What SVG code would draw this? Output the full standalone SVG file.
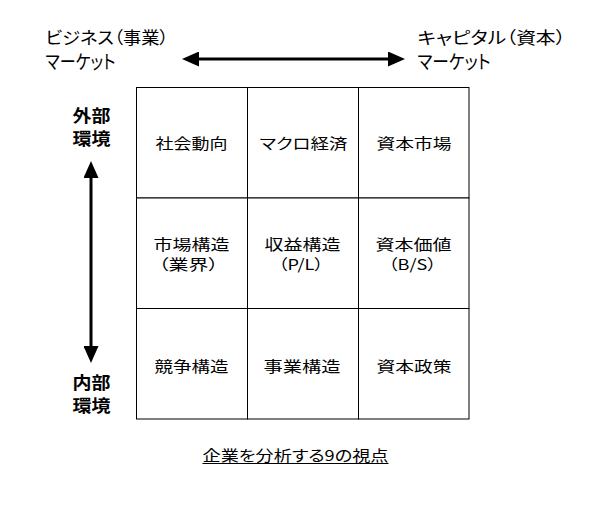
<svg xmlns="http://www.w3.org/2000/svg" width="613" height="505" viewBox="0 0 613 505">
<style>
text{font-family:"Noto Sans CJK JP","Noto Sans",sans-serif;font-size:15px;fill:#000;font-feature-settings:"palt";}
.top{font-size:17px;}
.kana{font-size:19px;}
.side{font-size:17px;font-weight:bold;}
.cell{fill:#fff;stroke:#000;stroke-width:1;}
.arr{stroke:#000;stroke-width:3;fill:none;}
</style>
<defs>
<marker id="ah" viewBox="0 0 17 15" refX="4" refY="7.5" markerWidth="17" markerHeight="15" markerUnits="userSpaceOnUse" orient="auto-start-reverse">
<path d="M0,0 L17,7.5 L0,15 z" fill="#000"/>
</marker>
</defs>
<rect width="613" height="505" fill="#fff"/>
<g id="connectors">
<line class="arr" x1="195" y1="59" x2="392" y2="59" marker-start="url(#ah)" marker-end="url(#ah)"/>
<line class="arr" x1="91" y1="174" x2="91" y2="350" marker-start="url(#ah)" marker-end="url(#ah)"/>
</g>
<g id="label-business">
<text class="top" x="45.5" y="44" textLength="123" lengthAdjust="spacingAndGlyphs">ビジネス（事業）</text>
<text class="kana" x="45.5" y="69" textLength="70" lengthAdjust="spacingAndGlyphs">マーケット</text>
</g>
<g id="label-capital">
<text class="top" x="417.5" y="44" textLength="148" lengthAdjust="spacingAndGlyphs">キャピタル（資本）</text>
<text class="kana" x="417.5" y="69" textLength="73" lengthAdjust="spacingAndGlyphs">マーケット</text>
</g>
<g id="label-external">
<text class="side" x="72.5" y="122" textLength="38" lengthAdjust="spacingAndGlyphs">外部</text>
<text class="side" x="72.5" y="145" textLength="38" lengthAdjust="spacingAndGlyphs">環境</text>
</g>
<g id="label-internal">
<text class="side" x="72.5" y="389" textLength="38" lengthAdjust="spacingAndGlyphs">内部</text>
<text class="side" x="72.5" y="412" textLength="38" lengthAdjust="spacingAndGlyphs">環境</text>
</g>
<g id="n11">
<rect class="cell" x="136.5" y="87.5" width="111" height="110.5"/>
<text x="155.5" y="149" textLength="72" lengthAdjust="spacingAndGlyphs">社会動向</text>
</g>
<g id="n12">
<rect class="cell" x="247.5" y="87.5" width="111" height="110.5"/>
<text x="259.5" y="149" textLength="88" lengthAdjust="spacingAndGlyphs">マクロ経済</text>
</g>
<g id="n13">
<rect class="cell" x="358.5" y="87.5" width="110.5" height="110.5"/>
<text x="376.5" y="149" textLength="75" lengthAdjust="spacingAndGlyphs">資本市場</text>
</g>
<g id="n21">
<rect class="cell" x="136.5" y="198" width="111" height="110.5"/>
<text x="153.5" y="250" textLength="76" lengthAdjust="spacingAndGlyphs">市場構造</text>
<text x="158.5" y="270" textLength="60" lengthAdjust="spacingAndGlyphs">（業界）</text>
</g>
<g id="n22">
<rect class="cell" x="247.5" y="198" width="111" height="110.5"/>
<text x="264.5" y="250" textLength="76" lengthAdjust="spacingAndGlyphs">収益構造</text>
<text x="278.5" y="270" textLength="45" lengthAdjust="spacingAndGlyphs">（P/L）</text>
</g>
<g id="n23">
<rect class="cell" x="358.5" y="198" width="110.5" height="110.5"/>
<text x="375.5" y="250" textLength="76" lengthAdjust="spacingAndGlyphs">資本価値</text>
<text x="388.5" y="270" textLength="48" lengthAdjust="spacingAndGlyphs">（B/S）</text>
</g>
<g id="n31">
<rect class="cell" x="136.5" y="308.5" width="111" height="110.5"/>
<text x="154.5" y="372" textLength="74" lengthAdjust="spacingAndGlyphs">競争構造</text>
</g>
<g id="n32">
<rect class="cell" x="247.5" y="308.5" width="111" height="110.5"/>
<text x="263.5" y="372" textLength="77" lengthAdjust="spacingAndGlyphs">事業構造</text>
</g>
<g id="n33">
<rect class="cell" x="358.5" y="308.5" width="110.5" height="110.5"/>
<text x="376.5" y="372" textLength="75" lengthAdjust="spacingAndGlyphs">資本政策</text>
</g>
<g id="title">
<text x="202.5" y="461" textLength="186" lengthAdjust="spacingAndGlyphs">企業を分析する9の視点</text>
<line x1="202.5" y1="463.5" x2="388.5" y2="463.5" stroke="#000" stroke-width="1"/>
</g>
</svg>
